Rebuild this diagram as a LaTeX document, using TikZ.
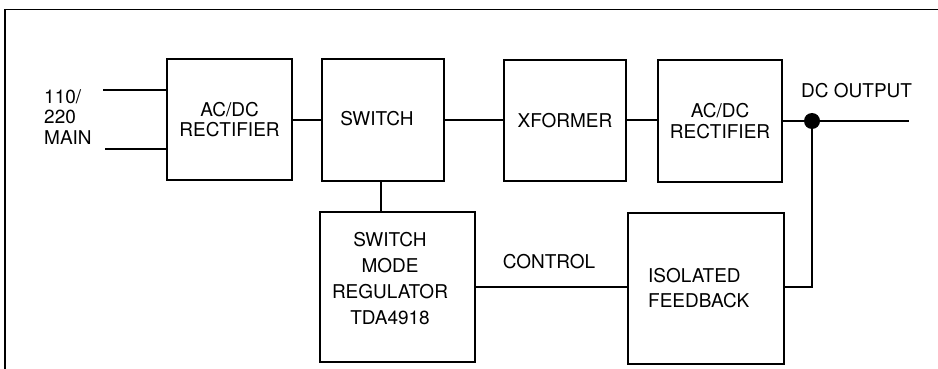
\documentclass[tikz,border=0pt]{standalone}
\usepackage{fontspec}
\setmainfont{TeX Gyre Heros}
\begin{document}
\begin{tikzpicture}[x=1pt,y=-1pt,
  blk/.style={draw,line width=1.8pt,inner sep=0pt,align=center},
  wire/.style={line width=2pt},
  lbl/.style={inner sep=0pt,font=\fontsize{19}{20.5}\selectfont},
  every node/.append style={font=\fontsize{19}{20.5}\selectfont}]
\useasboundingbox (0,0) rectangle (938,369);
\begin{scope}
\clip (0,0) rectangle (938,369);
\draw[line width=1.8pt] (5,9.5) rectangle (980,420);
\end{scope}
% boxes
\node[blk,minimum width=125pt,minimum height=121pt] (rect1) at (229.5,119.5) {AC/DC\\RECTIFIER};
\node[blk,minimum width=122pt,minimum height=122pt] (sw) at (383,120) {};
\node[lbl] (swt) at (377,119) {SWITCH};
\node[blk,minimum width=122pt,minimum height=121pt] (xf) at (565,120.5) {XFORMER};
\node[blk,minimum width=124pt,minimum height=122pt] (rect2) at (720,121) {AC/DC\\RECTIFIER};
\node[blk,minimum width=155pt,minimum height=150pt] (smr) at (397.5,287) {};
\node[lbl,align=center,font=\fontsize{19}{26}\selectfont] (smrt) at (390,279) {SWITCH\\MODE\\REGULATOR\\TDA4918};
\node[blk,minimum width=156pt,minimum height=151pt] (iso) at (706,288.5) {};
\node[lbl,align=left,font=\fontsize{19}{25.5}\selectfont,anchor=west] (isot) at (648,288) {ISOLATED\\FEEDBACK};
% labels
\node[lbl,align=left,anchor=west] (mains) at (44,117) {110/\\220\\MAIN};
\node[lbl,anchor=west] (dcout) at (801,91) {DC OUTPUT};
\node[lbl] (ctrl) at (549,262) {CONTROL};
% coordinates
\coordinate (in1) at (103,90);
\coordinate (in2) at (105,149);
\coordinate (dot) at (812,121);
\coordinate (out) at (909,121);
% wires
\draw[wire] (in1) -- (in1 -| rect1.west);
\draw[wire] (in2) -- (in2 -| rect1.west);
\draw[wire] (rect1.east |- 0,120) -- (sw.west |- 0,120);
\draw[wire] (sw.east |- 0,120) -- (xf.west |- 0,120);
\draw[wire] (xf.east |- 0,120) -- (rect2.west |- 0,120);
\draw[wire] (rect2.east |- dot) -- (dot) -- (out);
\draw[wire] (sw.south -| 381,0) -- (smr.north -| 381,0);
\draw[wire] (smr.east |- 0,286.5) -- (iso.west |- 0,286.5);
\draw[wire] (dot) -- (dot |- 0,286.5) -- (iso.east |- 0,286.5);
\fill (dot) circle (8pt);
\end{tikzpicture}
\end{document}
